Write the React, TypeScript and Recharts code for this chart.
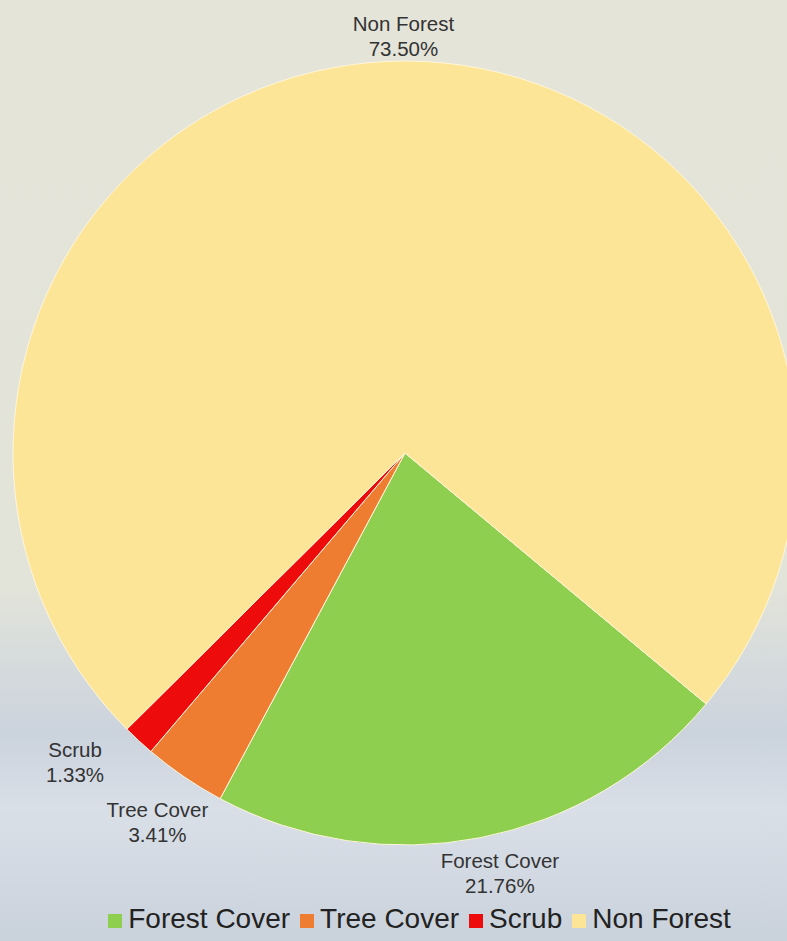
import { PieChart, Pie, Cell, Legend } from 'recharts'

const categories = ['Forest Cover', 'Tree Cover', 'Scrub', 'Non Forest']
const shares = [21.76, 3.41, 1.33, 73.5]
const sliceColors = ['#8fcf4f', '#ee7d32', '#ee0b0b', '#fde597']

const data = categories.map((name, i) => ({ name, value: shares[i] }))

const RAD = Math.PI / 180
const FONT = '"Liberation Sans", Arial, sans-serif'
const START = -39.8

// label spots on a ring round the pie; left-side labels pushed apart if they overlap
function layoutLabels(cx: number, cy: number, R: number) {
  const total = shares.reduce((a, b) => a + b, 0)
  let cum = 0
  const pts = shares.map((v) => {
    const mid = START - ((cum + v / 2) / total) * 360
    cum += v
    const c = Math.cos(-mid * RAD)
    const s = Math.sin(-mid * RAD)
    const r = R + 27 + 25 * Math.abs(c) + 30 * c * c
    return { x: cx + r * c + 17 * Math.pow(Math.abs(s), 12), y: cy + r * s, r, left: c < 0 }
  })
  const left = pts.filter((p) => p.left).sort((a, b) => b.y - a.y)
  for (let i = 1; i < left.length; i++) {
    const lower = left[i - 1]
    const p = left[i]
    if (p.y > lower.y - 60) {
      p.y = lower.y - 60
      const dy = p.y - cy
      p.x = cx - Math.sqrt(Math.max(p.r * p.r - dy * dy, 0))
    }
  }
  return pts
}

function renderLabel(props: any) {
  const { cx, cy, outerRadius, name, value, index } = props
  const { x, y } = layoutLabels(cx, cy, outerRadius)[index]
  return (
    <text x={x} y={y} textAnchor="middle" fontFamily={FONT} fontSize={20.5} fill="#333">
      <tspan x={x} dy={-2}>{name}</tspan>
      <tspan x={x} dy={25}>{value.toFixed(2)}%</tspan>
    </text>
  )
}

export default function App() {
  return (
    <div
      style={{
        position: 'absolute',
        left: 0,
        top: 0,
        width: 787,
        height: 941,
        overflow: 'hidden',
        background:
          'linear-gradient(180deg, #e4e4d9 0%, #e3e4d9 62%, #d6dbdc 70%, #cbd3dd 78%, #d9dfe7 86%, #d2d9e2 93%, #c9d1db 100%)',
      }}
    >
      <PieChart width={787} height={941} margin={{ top: 0, right: 0, bottom: 0, left: 0 }}>
        <Pie
          data={data}
          dataKey="value"
          nameKey="name"
          cx={405}
          cy={453}
          outerRadius={392}
          startAngle={START}
          endAngle={START - 360}
          stroke="#fff6dc"
          strokeWidth={1}
          label={renderLabel}
          labelLine={false}
          isAnimationActive={false}
        >
          {data.map((d, i) => (
            <Cell key={d.name} fill={sliceColors[i]} />
          ))}
        </Pie>
        <Legend
          verticalAlign="bottom"
          align="center"
          iconType="square"
          iconSize={14}
          itemSorter={(item: any) => categories.indexOf(item.value)}
          wrapperStyle={{ bottom: 6, left: 31, width: 787, fontFamily: FONT, fontSize: 28 }}
          formatter={(v: string) => <span style={{ color: '#222', marginLeft: 2 }}>{v}</span>}
        />
      </PieChart>
    </div>
  )
}
